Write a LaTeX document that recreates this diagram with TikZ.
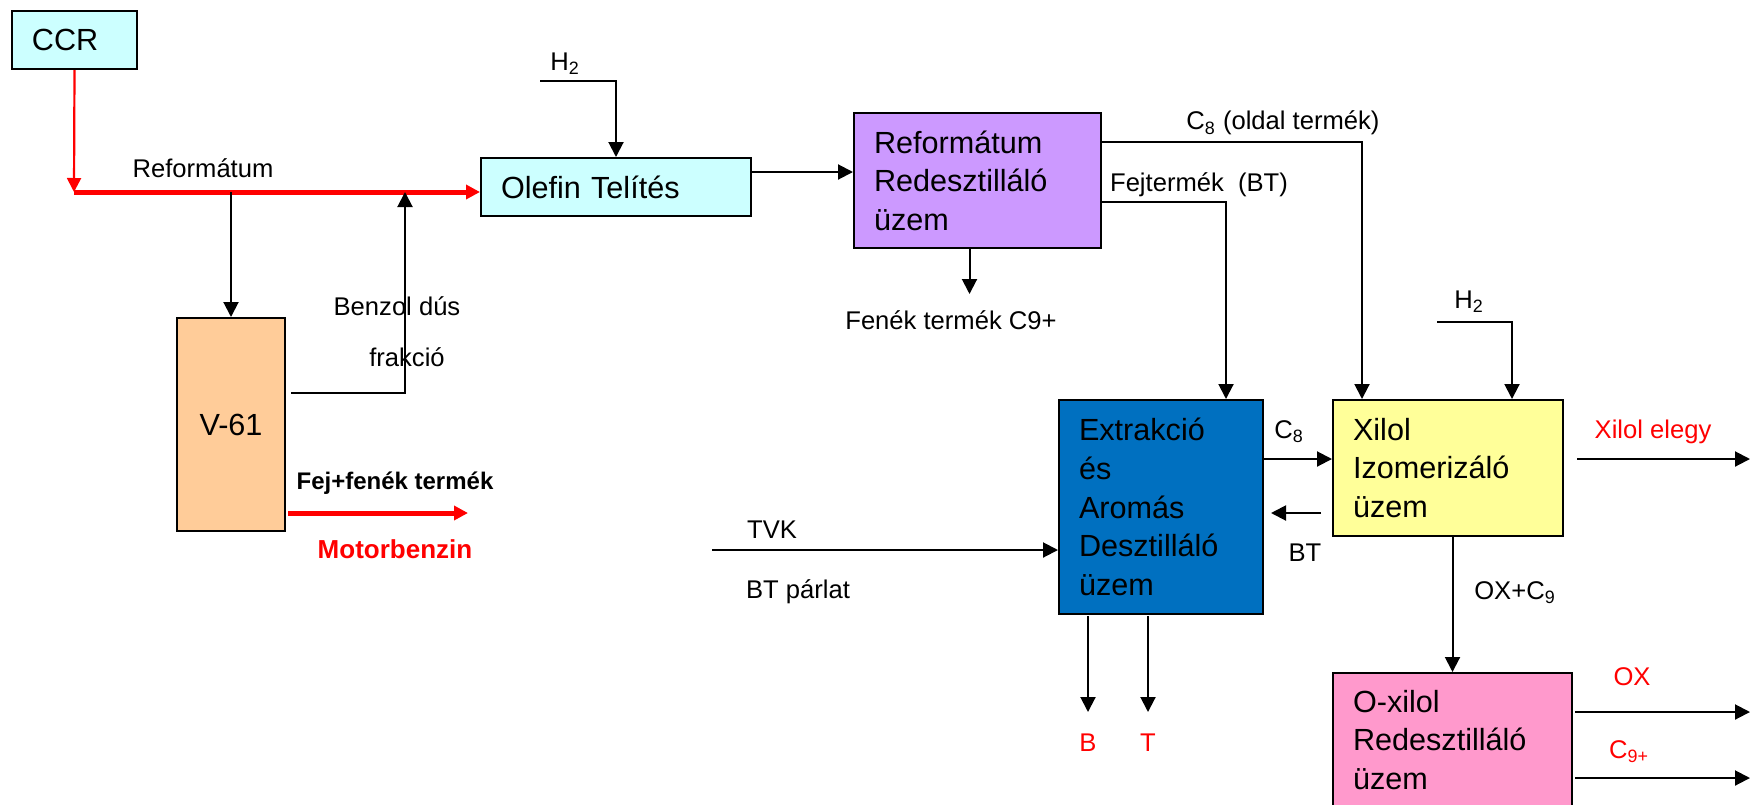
\documentclass[tikz,border=0pt]{standalone}
\usepackage{fontspec}
\setmainfont{Liberation Sans}
\usetikzlibrary{arrows.meta,calc}
\definecolor{feedcyan}{HTML}{CCFFFF}
\definecolor{colpeach}{HTML}{FFCC99}
\definecolor{redlilac}{HTML}{CC99FF}
\definecolor{extblue}{HTML}{0070C0}
\definecolor{isoyellow}{HTML}{FFFF99}
\definecolor{oxpink}{HTML}{FF99CC}
\tikzset{
  unit/.style={draw, line width=1pt, anchor=north west, inner xsep=10pt, inner ysep=0pt,
    align=left, font=\fontsize{15.3}{19.3}\selectfont},
  flow/.style={line width=1pt, -{Triangle[length=7.5pt,width=7.5pt]}},
  hot/.style={red, line width=2.5pt, -{Triangle[length=7pt,width=7pt]}},
  hotthin/.style={red, line width=1.1pt, -{Triangle[length=7pt,width=7pt]}},
  lbl/.style={font=\fontsize{12.8}{15}\selectfont, inner sep=0pt},
}
\begin{document}
\begin{tikzpicture}[x=0.5pt,y=-0.5pt]
  \useasboundingbox (0,0) rectangle (1750,804);
  \clip (0,0) rectangle (1750,804);
  \node[unit, fill=feedcyan, minimum width=62.5pt, minimum height=29pt, text width=42.5pt] (ccr) at (11,10) {CCR};
  \node[unit, fill=feedcyan, minimum width=135pt, minimum height=29pt, text width=115pt] (olefin) at (480,157) {Olefin Telítés};
  \node[unit, fill=colpeach, minimum width=54pt, minimum height=106.5pt, text width=34pt, align=center] (v61) at (176,317) {V-61};
  \node[unit, fill=redlilac, minimum width=123.5pt, minimum height=67.5pt, text width=103.5pt] (reform) at (853,112) {Reformátum\\Redesztilláló\\üzem};
  \node[unit, fill=extblue, minimum width=102pt, minimum height=107pt, text width=82pt] (extr) at (1058,399) {Extrakció\\és\\Aromás\\Desztilláló\\üzem};
  \node[unit, fill=isoyellow, minimum width=115pt, minimum height=68pt, text width=95pt] (xilol) at (1332,399) {Xilol\\Izomerizáló\\üzem};
  \node[unit, fill=oxpink, minimum width=119.5pt, minimum height=67pt, text width=99.5pt] (oxilol) at (1332,672) {O-xilol\\Redesztilláló\\üzem};

  \coordinate (junc) at (74,192);
  \draw[hotthin] (ccr.south) -- (junc);
  \draw[hot] (junc) -- (junc -| olefin.west);
  \node[lbl] (reflbl) at (203,168) {Reformátum};
  \draw[flow] (v61.north |- junc) -- (v61.north);
  \coordinate (bzs) at (291,393);
  \coordinate (bzc) at (405,393);
  \draw[flow] (bzs) -- (bzc) -- (bzc |- junc);
  \node[lbl] (bzlbl) at (397,306) {Benzol dús};
  \node[lbl] (frlbl) at (407,357) {frakció};
  \coordinate (mbs) at (288,513);
  \coordinate (mbe) at (468,513);
  \draw[hot] (mbs) -- (mbe);
  \node[lbl, font=\fontsize{12}{15}\selectfont\bfseries] (fflbl) at (395,483) {Fej+fenék termék};
  \node[lbl, red, font=\fontsize{13}{15}\selectfont\bfseries] (mblbl) at (395,549) {Motorbenzin};

  \coordinate (h2a) at (540,81);
  \draw[flow] (h2a) -| (olefin.north);
  \node[lbl] (h2lbl) at (565,64) {H\textsubscript{2}};
  \draw[flow] (olefin.east |- 0,172) -- (reform.west |- 0,172);
  \draw[flow] ([xshift=-4pt]reform.south) -- ++(0,45);
  \node[lbl] (c9lbl) at (951,320) {Fenék termék C9+};
  \draw[flow] (reform.east |- 0,142) -| ($(xilol.north west)+(30,0)$);
  \node[lbl] (c8lbl) at (1283,123) {C\textsubscript{8} (oldal termék)};
  \draw[flow] (reform.east |- 0,202) -| ($(extr.north west)+(168,0)$);
  \node[lbl] (btlbl) at (1199,185) {Fejtermék~ (BT)};
  \coordinate (h2b) at (1437,322);
  \draw[flow] (h2b) -| ($(xilol.north west)+(180,0)$);
  \node[lbl] (h2blbl) at (1469,302) {H\textsubscript{2}};

  \draw[flow] (extr.east |- 0,459) -- (xilol.west |- 0,459);
  \node[lbl] (c8blbl) at (1289,432) {C\textsubscript{8}};
  \coordinate (bts) at (1321,513);
  \coordinate (bte) at (1271,513);
  \draw[flow] (bts) -- (bte);
  \node[lbl] (btblbl) at (1305,553) {BT};
  \coordinate (xes) at (1577,459);
  \draw[flow] (xes) -- (1750,459);
  \node[lbl, red] (xelbl) at (1653,432) {Xilol elegy};
  \coordinate (tvk) at (712,550);
  \draw[flow] (tvk) -- (extr.west |- tvk);
  \node[lbl] (tvklbl) at (772,530) {TVK};
  \node[lbl] (bplbl) at (798,592) {BT párlat};
  \coordinate (bo) at (1088,616);
  \coordinate (to) at (1148,616);
  \draw[flow] (bo) -- ++(0,96);
  \draw[flow] (to) -- ++(0,96);
  \node[lbl, red] (blbl) at (1088,743) {B};
  \node[lbl, red] (tlbl) at (1148,743) {T};
  \draw[flow] (oxilol.north |- xilol.south) -- (oxilol.north);
  \node[lbl] (oxclbl) at (1515,593) {OX+C\textsubscript{9}};
  \coordinate (oxs) at (1575,712);
  \coordinate (c9s) at (1575,778);
  \draw[flow] (oxs) -- (1750,712);
  \draw[flow] (c9s) -- (1750,778);
  \node[lbl, red] (oxlbl) at (1632,677) {OX};
  \node[lbl, red] (c9plbl) at (1629,752) {C\textsubscript{9+}};
\end{tikzpicture}
\end{document}
